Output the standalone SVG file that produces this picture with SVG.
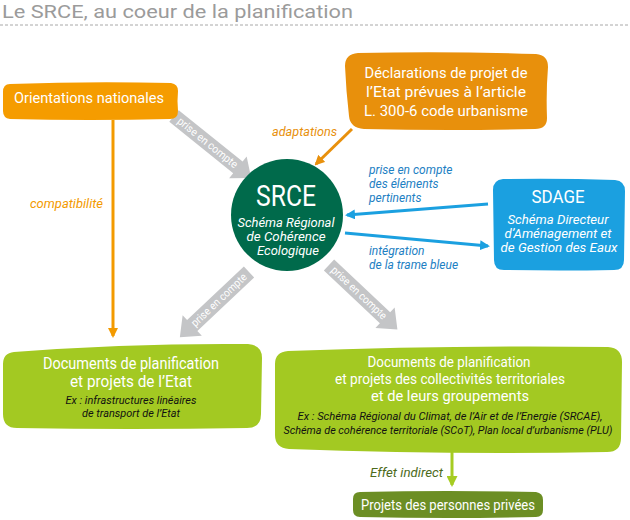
<svg xmlns="http://www.w3.org/2000/svg" width="630" height="520" viewBox="0 0 630 520">
<defs>
<style>
text{font-family:Roboto,"Liberation Sans",sans-serif}
.w{fill:#fff}
.it{font-style:italic}
.mid{text-anchor:middle}
.blue{fill:#1d80c3;font-size:12px;font-style:italic}
.garrow{fill:#c4c5c7}
.gtxt{fill:#fff;font-size:11px;text-anchor:middle}
</style>
<marker id="mb" markerWidth="10" markerHeight="10" refX="8" refY="5" orient="auto" markerUnits="userSpaceOnUse"><path d="M0,0 L10,5 L0,10 Z" fill="#1ba0e0"/></marker>
<marker id="mo" markerWidth="10" markerHeight="10" refX="8" refY="5" orient="auto" markerUnits="userSpaceOnUse"><path d="M0,0 L10,5 L0,10 Z" fill="#f39a00"/></marker>
<marker id="mo2" markerWidth="10" markerHeight="10" refX="8" refY="5" orient="auto" markerUnits="userSpaceOnUse"><path d="M0,0 L10,5 L0,10 Z" fill="#e8900c"/></marker>
<marker id="mg" markerWidth="11" markerHeight="11" refX="9" refY="5.5" orient="auto" markerUnits="userSpaceOnUse"><path d="M0,0 L11,5.5 L0,11 Z" fill="#a6cc22"/></marker>
</defs>

<text x="2" y="18" font-size="19" fill="#9b9b9b" textLength="351" lengthAdjust="spacingAndGlyphs">Le SRCE, au coeur de la planification</text>
<line x1="0" y1="25" x2="630" y2="25" stroke="#a8a8a8" stroke-width="1" stroke-dasharray="3 2"/>

<g id="connectors">
  <line x1="113" y1="120" x2="113" y2="336" stroke="#f39a00" stroke-width="3" marker-end="url(#mo)"/>
  <line x1="352" y1="129" x2="316" y2="164" stroke="#e8900c" stroke-width="3" marker-end="url(#mo2)"/>
  <line x1="488" y1="204" x2="347" y2="215" stroke="#1ba0e0" stroke-width="3" marker-end="url(#mb)"/>
  <line x1="345" y1="233" x2="488" y2="246" stroke="#1ba0e0" stroke-width="3" marker-end="url(#mb)"/>
  <line x1="452" y1="452" x2="452" y2="485" stroke="#a6cc22" stroke-width="3" marker-end="url(#mg)"/>

  <g transform="translate(174,116) rotate(38.8)">
    <polygon class="garrow" points="0,-7.5 82,-7.5 82,-14 99,0 82,14 82,7.5 0,7.5"/>
    <text class="gtxt" x="43" y="3.4" textLength="74" lengthAdjust="spacingAndGlyphs">prise en compte</text>
  </g>
  <g transform="translate(249,272) rotate(136.7)">
    <polygon class="garrow" points="0,-7.5 78,-7.5 78,-14 95,0 78,14 78,7.5 0,7.5"/>
    <text class="gtxt" x="41" y="3.4" transform="rotate(180 41 0)" textLength="72" lengthAdjust="spacingAndGlyphs">prise en compte</text>
  </g>
  <g transform="translate(329,265) rotate(43.3)">
    <polygon class="garrow" points="0,-7.5 77,-7.5 77,-14 94,0 77,14 77,7.5 0,7.5"/>
    <text class="gtxt" x="41" y="3.4" textLength="72" lengthAdjust="spacingAndGlyphs">prise en compte</text>
  </g>

  <text x="30" y="208" font-size="12" class="it" fill="#f39a00" textLength="73" lengthAdjust="spacingAndGlyphs">compatibilité</text>
  <text x="272" y="136" font-size="12" class="it" fill="#e8900c" textLength="65" lengthAdjust="spacingAndGlyphs">adaptations</text>
  <text class="blue" x="369" y="174">prise en compte</text>
  <text class="blue" x="369" y="188">des éléments</text>
  <text class="blue" x="369" y="202">pertinents</text>
  <text class="blue" x="369" y="255">intégration</text>
  <text class="blue" x="369" y="269">de la trame bleue</text>
  <text x="370" y="477" font-size="12.5" class="it" fill="#4d6b1c" textLength="73" lengthAdjust="spacingAndGlyphs">Effet indirect</text>
</g>

<g id="orientations">
  <path d="M10,84 Q90,81 171,83 Q178,84 178,91 Q177,101 178,111 Q178,119 170,119 Q90,121 10,119 Q3,118 3,111 L3,92 Q3,84 10,84 Z" fill="#f59c00"/>
  <text class="w mid" x="89" y="103" font-size="15.5" textLength="150" lengthAdjust="spacingAndGlyphs">Orientations nationales</text>
</g>

<g id="declarations">
  <path d="M358,53 Q446,51 536,54 Q548,55 548,67 Q546,92 547,118 Q547,129 535,129 Q450,131 364,129 Q350,128 349,116 Q346,90 345,66 Q345,54 358,53 Z" fill="#e8900c"/>
  <text class="w mid" x="446" y="78" font-size="15" textLength="163" lengthAdjust="spacingAndGlyphs">Déclarations de projet de</text>
  <text class="w mid" x="446" y="97" font-size="15" textLength="160" lengthAdjust="spacingAndGlyphs">l’Etat prévues à l’article</text>
  <text class="w mid" x="446" y="116" font-size="15" textLength="164" lengthAdjust="spacingAndGlyphs">L. 300-6 code urbanisme</text>
</g>

<g id="srce">
  <circle cx="287" cy="215" r="56" fill="#006a4b"/>
  <text class="w mid" x="286" y="206" font-size="29" textLength="60" lengthAdjust="spacingAndGlyphs">SRCE</text>
  <text class="w mid it" x="286" y="227" font-size="12.5" textLength="97" lengthAdjust="spacingAndGlyphs">Schéma Régional</text>
  <text class="w mid it" x="286" y="241" font-size="12.5" textLength="79" lengthAdjust="spacingAndGlyphs">de Cohérence</text>
  <text class="w mid it" x="288" y="255" font-size="12.5" textLength="62" lengthAdjust="spacingAndGlyphs">Ecologique</text>
</g>

<g id="sdage">
  <path d="M503,179 Q560,178 615,180 Q625,181 625,191 L624,260 Q624,270 614,270 Q560,271 504,270 Q494,270 494,260 L493,190 Q493,180 503,179 Z" fill="#1ba0e0"/>
  <text class="w mid" x="558" y="203" font-size="18" textLength="53" lengthAdjust="spacingAndGlyphs">SDAGE</text>
  <text class="w mid it" x="558" y="224" font-size="12.5" textLength="101" lengthAdjust="spacingAndGlyphs">Schéma Directeur</text>
  <text class="w mid it" x="558" y="238" font-size="12.5" textLength="107" lengthAdjust="spacingAndGlyphs">d’Aménagement et</text>
  <text class="w mid it" x="559" y="252" font-size="12.5" textLength="117" lengthAdjust="spacingAndGlyphs">de Gestion des Eaux</text>
</g>

<g id="docs-etat">
  <path d="M14,352 Q130,343 248,344 Q262,345 262,358 L261,414 Q261,428 247,428 Q130,430 17,428 Q3,428 3,414 L3,364 Q3,353 14,352 Z" fill="#a3c922"/>
  <text class="w mid" x="131" y="369" font-size="16" textLength="176" lengthAdjust="spacingAndGlyphs">Documents de planification</text>
  <text class="w mid" x="131" y="387" font-size="16" textLength="122" lengthAdjust="spacingAndGlyphs">et projets de l’Etat</text>
  <text class="mid it" x="131" y="404" font-size="11" fill="#111" textLength="131" lengthAdjust="spacingAndGlyphs">Ex : infrastructures linéaires</text>
  <text class="mid it" x="131" y="417" font-size="11" fill="#111" textLength="98" lengthAdjust="spacingAndGlyphs">de transport de l’Etat</text>
</g>

<g id="docs-collectivites">
  <path d="M288,351 Q450,345 608,347 Q622,348 622,362 L621,438 Q621,452 607,452 Q450,455 289,449 Q275,448 275,435 L275,364 Q275,352 288,351 Z" fill="#a3c922"/>
  <text class="w mid" x="449" y="367" font-size="15.5" textLength="163" lengthAdjust="spacingAndGlyphs">Documents de planification</text>
  <text class="w mid" x="450" y="384" font-size="15.5" textLength="230" lengthAdjust="spacingAndGlyphs">et projets des collectivités territoriales</text>
  <text class="w mid" x="450" y="401" font-size="15.5" textLength="158" lengthAdjust="spacingAndGlyphs">et de leurs groupements</text>
  <text class="mid it" x="450" y="420" font-size="10.5" fill="#111" textLength="305" lengthAdjust="spacingAndGlyphs">Ex :  Schéma Régional du Climat, de l’Air et de l’Energie (SRCAE),</text>
  <text class="mid it" x="448" y="434" font-size="10.5" fill="#111" textLength="329" lengthAdjust="spacingAndGlyphs">Schéma de cohérence territoriale (SCoT), Plan local d’urbanisme (PLU)</text>
</g>

<g id="projets-prives">
  <path d="M360,492 Q448,490 536,492 Q543,493 543,500 L543,510 Q543,517 536,517 Q448,519 360,517 Q353,517 353,510 L353,499 Q353,492 360,492 Z" fill="#6c8e24"/>
  <text class="w mid" x="448" y="510" font-size="15" textLength="174" lengthAdjust="spacingAndGlyphs">Projets des personnes privées</text>
</g>
</svg>
